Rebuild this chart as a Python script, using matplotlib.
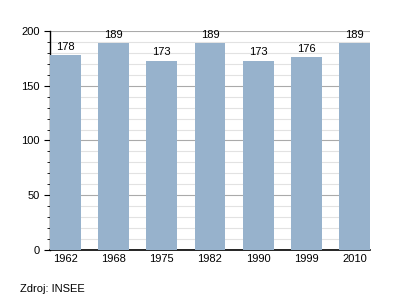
import numpy as np
import matplotlib
matplotlib.use("Agg")
import matplotlib.pyplot as plt
from matplotlib.ticker import MultipleLocator

years = ['1962', '1968', '1975', '1982', '1990', '1999', '2010']
population = [178, 189, 173, 189, 173, 176, 189]

plt.rcParams['font.family'] = ['Liberation Sans', 'DejaVu Sans']
plt.rcParams['font.size'] = 8

fig = plt.figure(figsize=(4, 3), dpi=100)
ax = fig.add_axes([0.125, 0.1667, 0.8, 0.73])

x = np.arange(len(years))
w = 0.64
bars = ax.bar(x, population, width=w, color='#97b2cc', zorder=3)
for xi, v in zip(x, population):
    ax.text(xi, v + 3, str(v), ha='center', va='bottom', fontsize=8, zorder=4)

ax.set_xlim(-w / 2, len(years) - 1 + w / 2)
ax.set_ylim(0, 200)
ax.set_xticks(x)
ax.set_xticklabels(years)
ax.yaxis.set_major_locator(MultipleLocator(50))
ax.yaxis.set_minor_locator(MultipleLocator(10))
ax.grid(axis='y', which='major', color='#aaaaaa', linewidth=0.8, zorder=1)
ax.grid(axis='y', which='minor', color='#e2e2e2', linewidth=0.8, zorder=1)
ax.tick_params(axis='x', length=0, pad=3)
ax.tick_params(axis='y', which='major', length=4, width=0.8)
ax.tick_params(axis='y', which='minor', length=2, width=0.6)
for s in ['top', 'right']:
    ax.spines[s].set_visible(False)
ax.spines['left'].set_linewidth(1)
ax.spines['bottom'].set_linewidth(1.2)

fig.text(0.05, 0.035, 'Zdroj: INSEE', fontsize=8, ha='left', va='center')

fig.savefig('out.png', dpi=100)
